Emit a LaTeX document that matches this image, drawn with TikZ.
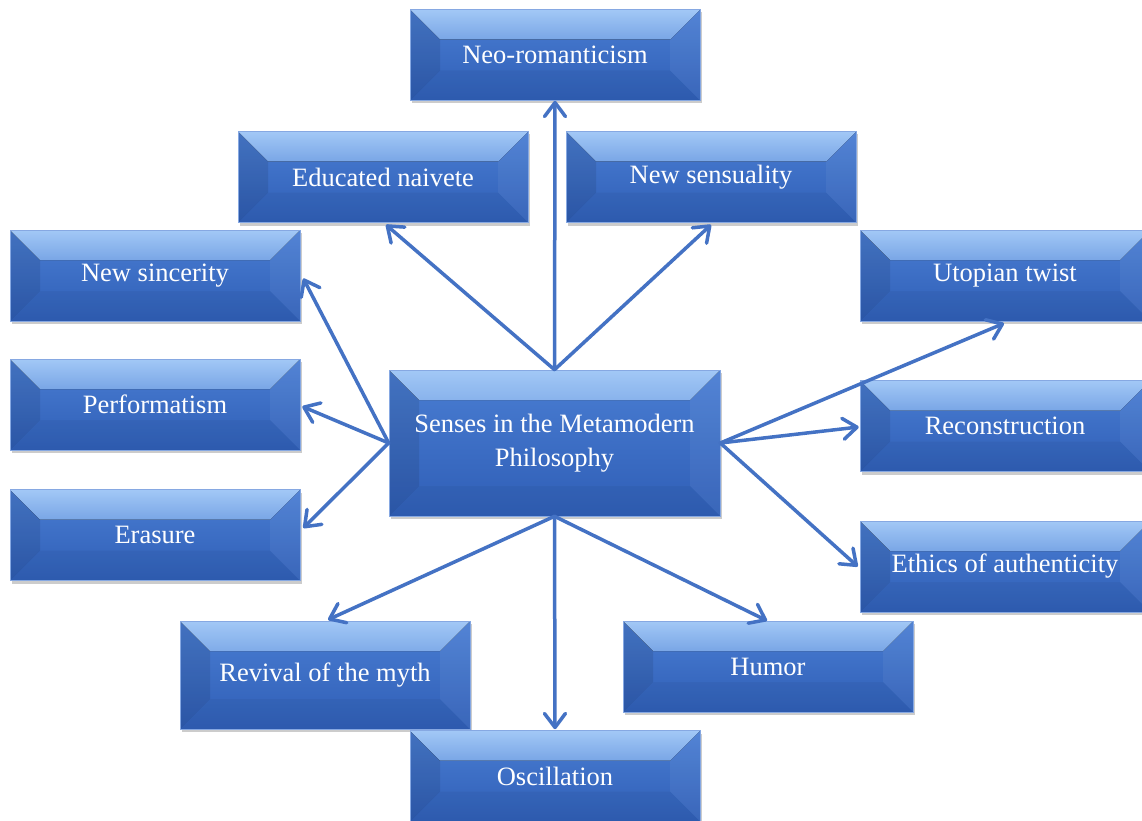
\documentclass[tikz,border=0pt]{standalone}
\usepackage{fontspec}
\setmainfont{Liberation Serif}
\usetikzlibrary{arrows.meta,shadows,calc}
\definecolor{arr}{HTML}{4472C4}
\definecolor{bxtop}{HTML}{4A7ED3}
\definecolor{bxbot}{HTML}{2F5EB6}
\definecolor{bxedge}{HTML}{86A8E2}
\definecolor{bevlight}{HTML}{A2C8F6}
\definecolor{bevmid}{HTML}{4A7ED3}
\begin{document}
\begin{tikzpicture}[x=1pt,y=-1pt,
  bx/.style={rectangle, inner sep=0pt, minimum width=290pt, minimum height=91pt,
    align=center, text=white, font=\fontsize{26.5}{34}\selectfont,
    draw=bxedge, line width=.6pt, top color=bxtop, bottom color=bxbot,
    drop shadow={shadow xshift=2pt, shadow yshift=-3pt, fill=black, opacity=.2},
    path picture={
      \fill[top color=bevlight, bottom color=bevmid, middle color=bevmid!70!bevlight]
        (path picture bounding box.north west) -- (path picture bounding box.north east)
        -- ([shift={(-30pt,-30pt)}]path picture bounding box.north east)
        -- ([shift={(30pt,-30pt)}]path picture bounding box.north west) -- cycle;
      \fill[black, opacity=.09]
        (path picture bounding box.north west)
        -- ([shift={(30pt,-30pt)}]path picture bounding box.north west)
        -- ([shift={(30pt,30pt)}]path picture bounding box.south west)
        -- (path picture bounding box.south west) -- cycle;
      \fill[white, opacity=.05]
        (path picture bounding box.north east)
        -- ([shift={(-30pt,-30pt)}]path picture bounding box.north east)
        -- ([shift={(-30pt,30pt)}]path picture bounding box.south east)
        -- (path picture bounding box.south east) -- cycle;
      \fill[black, opacity=.04]
        (path picture bounding box.south west)
        -- ([shift={(30pt,30pt)}]path picture bounding box.south west)
        -- ([shift={(-30pt,30pt)}]path picture bounding box.south east)
        -- (path picture bounding box.south east) -- cycle;
    }},
  con/.style={draw=arr, line width=3.5pt, line cap=round,
    -{Straight Barb[length=14pt,width=21pt,round]}}
]
\fill[white] (0,0) rectangle (1142,821);
\useasboundingbox (0,0) rectangle (1142,821);

\node[bx] (neo)  at (555,55)    {Neo-romanticism};
\node[bx] (edu)  at (383,177)   {Educated naivete};
\node[bx] (sens) at (711,177)   {New sensuality};
\node[bx] (sinc) at (155,275.5) {New sincerity};
\node[bx] (uto)  at (1005,275.5){Utopian twist};
\node[bx] (perf) at (155,404.5) {Performatism};
\node[bx] (rec)  at (1005,426)  {Reconstruction};
\node[bx] (eras) at (155,535)   {Erasure};
\node[bx] (eth)  at (1005,566.5){Ethics of authenticity};
\node[bx, minimum height=108pt] (rev) at (325,675) {Revival of the myth};
\node[bx] (hum)  at (768,666.5) {Humor};
\node[bx] (osc)  at (555,776)   {Oscillation};
\node[bx, minimum width=331pt, minimum height=146pt] (c) at (554.5,443)
  {Senses in the Metamodern\\Philosophy};

\draw[con] (c.north) -- (neo.south);
\draw[con] (c.north) -- ([shift={(3,2)}]edu.south);
\draw[con] (c.north) -- ([shift={(0,2)}]sens.south);
\draw[con] (c.west) -- ([shift={(3,3)}]sinc.east);
\draw[con] (c.west) -- ([shift={(2,2)}]perf.east);
\draw[con] (c.west) -- ([shift={(3,-7)}]eras.east);
\draw[con] (c.east) -- ([shift={(-1,2)}]uto.south);
\draw[con] (c.east) -- ([shift={(-1,1)}]rec.west);
\draw[con] (c.east) -- ([shift={(-2,0)}]eth.west);
\draw[con] (c.south) -- ([shift={(3,-1)}]rev.north);
\draw[con] (c.south) -- ([shift={(0,-1)}]osc.north);
\draw[con] (c.south) -- ([shift={(-1,0)}]hum.north);
\end{tikzpicture}
\end{document}
